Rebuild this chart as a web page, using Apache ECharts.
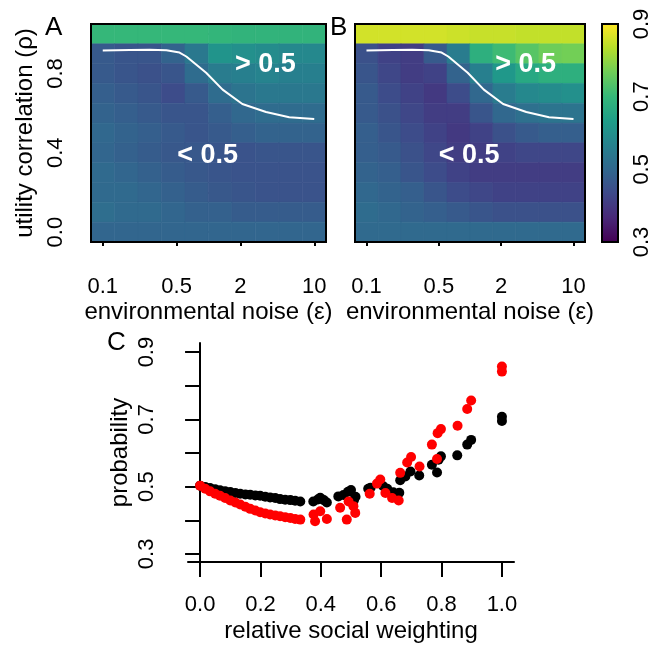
<!DOCTYPE html>
<html>
<head>
<meta charset="utf-8">
<script src="https://cdn.jsdelivr.net/npm/echarts@6/dist/echarts.min.js"></script>
<style>
html, body { margin: 0; padding: 0; background: #fff; }
#chart { width: 671px; height: 650px; }
</style>
</head>
<body>
<div id="chart"></div>
<script>
// ejes de los mapas de calor
var noiseLevels = [0.1, 0.167, 0.278, 0.464, 0.774, 1.29, 2.15, 3.59, 5.99, 10];
var noiseTicks = [0.1, 0.5, 2, 10];
var rhoLevels = [1.0, 0.9, 0.8, 0.7, 0.6, 0.5, 0.4, 0.3, 0.2, 0.1, 0.0];
var rhoTicks = [0, 0.2, 0.4, 0.6, 0.8, 1.0];
var rhoLabels = [0, 0.4, 0.8];

// panel A, filas de rho = 1.0 hasta 0.0
var probA = [
    [0.70, 0.70, 0.70, 0.70, 0.70, 0.695, 0.69, 0.69, 0.69, 0.69],
    [0.47, 0.46, 0.46, 0.49, 0.54, 0.61, 0.60, 0.59, 0.58, 0.58],
    [0.47, 0.46, 0.45, 0.46, 0.51, 0.55, 0.56, 0.57, 0.56, 0.56],
    [0.48, 0.47, 0.46, 0.44, 0.47, 0.51, 0.53, 0.54, 0.54, 0.54],
    [0.49, 0.48, 0.47, 0.46, 0.46, 0.48, 0.50, 0.51, 0.51, 0.51],
    [0.50, 0.49, 0.48, 0.47, 0.46, 0.47, 0.48, 0.49, 0.49, 0.49],
    [0.495, 0.485, 0.475, 0.465, 0.465, 0.46, 0.455, 0.46, 0.46, 0.46],
    [0.505, 0.495, 0.485, 0.475, 0.465, 0.46, 0.455, 0.455, 0.455, 0.455],
    [0.505, 0.505, 0.495, 0.485, 0.475, 0.465, 0.46, 0.455, 0.455, 0.455],
    [0.515, 0.505, 0.505, 0.495, 0.485, 0.485, 0.475, 0.475, 0.475, 0.475],
    [0.495, 0.495, 0.495, 0.495, 0.495, 0.495, 0.495, 0.495, 0.495, 0.495]
];

// panel B
var probB = [
    [0.86, 0.86, 0.86, 0.86, 0.855, 0.85, 0.85, 0.845, 0.845, 0.845],
    [0.45, 0.42, 0.41, 0.47, 0.55, 0.68, 0.71, 0.74, 0.765, 0.77],
    [0.46, 0.43, 0.41, 0.42, 0.49, 0.56, 0.62, 0.66, 0.68, 0.68],
    [0.47, 0.44, 0.42, 0.40, 0.44, 0.50, 0.55, 0.58, 0.59, 0.60],
    [0.47, 0.45, 0.43, 0.41, 0.41, 0.46, 0.50, 0.52, 0.53, 0.53],
    [0.48, 0.46, 0.44, 0.42, 0.40, 0.42, 0.45, 0.47, 0.48, 0.48],
    [0.48, 0.47, 0.45, 0.43, 0.41, 0.41, 0.42, 0.43, 0.43, 0.43],
    [0.49, 0.48, 0.46, 0.44, 0.42, 0.41, 0.41, 0.41, 0.41, 0.41],
    [0.50, 0.49, 0.48, 0.46, 0.44, 0.43, 0.42, 0.42, 0.42, 0.42],
    [0.51, 0.50, 0.49, 0.48, 0.47, 0.46, 0.45, 0.45, 0.45, 0.45],
    [0.505, 0.505, 0.505, 0.505, 0.505, 0.505, 0.505, 0.505, 0.505, 0.505]
];

// contorno de 0.5
var contourNoise = [0.1, 0.18, 0.277, 0.4, 0.532, 0.617, 0.95, 1.36, 2.09, 3.5, 5.8, 10];
var contourRho = [0.916, 0.919, 0.92, 0.917, 0.906, 0.886, 0.804, 0.719, 0.646, 0.606, 0.579, 0.571];

var regionText = ['> 0.5', '< 0.5'];
var regionNoise = [3.45, 0.98];
var regionRho = [0.844, 0.387];

var colorTicks = [0.3, 0.5, 0.7, 0.9];
var colorRange = [0.3, 0.9];
var viridis = ['#440154', '#482878', '#3e4989', '#31688e', '#26828e',
               '#1f9e89', '#35b779', '#6ece58', '#b5de2b', '#fde725'];

// panel C
var weightTicks = [0, 0.2, 0.4, 0.6, 0.8, 1.0];
var probTicks = [0.3, 0.4, 0.5, 0.6, 0.7, 0.8, 0.9];
var probLabels = [0.3, 0.5, 0.7, 0.9];

var blackWeight = [0.000, 0.017, 0.033, 0.050, 0.066, 0.083, 0.100, 0.117, 0.133, 0.150,
    0.166, 0.183, 0.199, 0.216, 0.232, 0.249, 0.265, 0.282, 0.299, 0.315, 0.332,
    0.375, 0.390, 0.398, 0.410, 0.420, 0.458, 0.475, 0.490, 0.500, 0.510, 0.515,
    0.557, 0.565, 0.607, 0.620, 0.640, 0.660, 0.663, 0.680, 0.697, 0.726, 0.768,
    0.785, 0.790, 0.798, 0.852, 0.885, 0.898, 1.000, 1.000];
var blackProb = [0.503, 0.499, 0.496, 0.492, 0.489, 0.486, 0.484, 0.481, 0.479, 0.477,
    0.476, 0.474, 0.473, 0.470, 0.468, 0.466, 0.463, 0.461, 0.460, 0.458, 0.456,
    0.456, 0.462, 0.467, 0.460, 0.453, 0.471, 0.475, 0.485, 0.490, 0.460, 0.470,
    0.494, 0.497, 0.501, 0.494, 0.483, 0.482, 0.519, 0.530, 0.545, 0.533, 0.565,
    0.542, 0.580, 0.590, 0.593, 0.625, 0.639, 0.708, 0.695];

var redWeight = [0.000, 0.017, 0.033, 0.050, 0.066, 0.083, 0.100, 0.117, 0.133, 0.150,
    0.166, 0.183, 0.199, 0.216, 0.232, 0.249, 0.265, 0.282, 0.299, 0.315, 0.332,
    0.376, 0.381, 0.398, 0.420, 0.464, 0.486, 0.492, 0.508, 0.514, 0.562, 0.586,
    0.597, 0.614, 0.636, 0.658, 0.663, 0.686, 0.699, 0.727, 0.768, 0.785, 0.787,
    0.798, 0.853, 0.885, 0.898, 1.000, 1.000];
var redProb = [0.503, 0.494, 0.486, 0.479, 0.473, 0.466, 0.459, 0.453, 0.447, 0.440,
    0.434, 0.429, 0.424, 0.420, 0.417, 0.414, 0.412, 0.409, 0.407, 0.404, 0.402,
    0.417, 0.397, 0.427, 0.404, 0.437, 0.402, 0.456, 0.442, 0.422, 0.479, 0.509,
    0.521, 0.481, 0.466, 0.459, 0.541, 0.572, 0.588, 0.560, 0.625, 0.582, 0.659,
    0.671, 0.681, 0.731, 0.756, 0.857, 0.842];

var FONT = 'Liberation Sans';
var log10 = function (v) { return Math.log10(v); };
var halfW = (log10(noiseLevels[noiseLevels.length - 1]) - log10(noiseLevels[0])) / (noiseLevels.length - 1) / 2;
var halfH = (rhoLevels[0] - rhoLevels[1]) / 2;

function heatData(grid) {
    var out = [];
    for (var r = 0; r < rhoLevels.length; r++) {
        for (var c = 0; c < noiseLevels.length; c++) {
            out.push([log10(noiseLevels[c]), rhoLevels[r], grid[r][c]]);
        }
    }
    return out;
}

function renderCell(params, api) {
    var x = api.value(0), y = api.value(1);
    var p0 = api.coord([x - halfW, y + halfH]);
    var p1 = api.coord([x + halfW, y - halfH]);
    var col = api.visual('color');
    return {
        type: 'rect',
        shape: { x: p0[0], y: p0[1], width: p1[0] - p0[0], height: p1[1] - p0[1] },
        style: { fill: col, stroke: col, lineWidth: 0.6 }
    };
}

var contourData = contourNoise.map(function (e, i) { return [log10(e), contourRho[i]]; });
var regionData = regionText.map(function (t, i) {
    return { name: t, value: [log10(regionNoise[i]), regionRho[i]] };
});

function noiseLabel(v) {
    return String(+Math.pow(10, v).toPrecision(2));
}

function heatXAxis(gridIndex) {
    return {
        type: 'value', gridIndex: gridIndex,
        min: log10(noiseLevels[0]) - halfW,
        max: log10(noiseLevels[noiseLevels.length - 1]) + halfW,
        name: 'environmental noise (ε)', nameLocation: 'middle', nameGap: 58,
        nameTextStyle: { fontSize: 24, fontFamily: FONT, color: '#000' },
        axisLine: { show: false },
        axisTick: { show: true, length: 14, customValues: noiseTicks.map(log10), lineStyle: { color: '#000', width: 2 } },
        axisLabel: { show: true, margin: 34, fontSize: 22, fontFamily: FONT, color: '#000',
            customValues: noiseTicks.map(log10), formatter: noiseLabel },
        splitLine: { show: false }
    };
}

var axisText = { fontSize: 22, fontFamily: FONT, color: '#000' };
var regionLabel = { show: true, position: 'inside', formatter: '{b}', color: '#fff',
    fontSize: 27, fontWeight: 'bold', fontFamily: FONT };

var option = {
    animation: false,
    backgroundColor: '#fff',
    title: [
        { text: 'A', left: 45, top: 15, padding: 0, textStyle: { fontSize: 26, fontWeight: 'normal', fontFamily: FONT, color: '#000' } },
        { text: 'B', left: 330, top: 15, padding: 0, textStyle: { fontSize: 26, fontWeight: 'normal', fontFamily: FONT, color: '#000' } },
        { text: 'C', left: 107, top: 330, padding: 0, textStyle: { fontSize: 26, fontWeight: 'normal', fontFamily: FONT, color: '#000' } }
    ],
    visualMap: {
        type: 'continuous', show: false,
        min: colorRange[0], max: colorRange[1],
        dimension: 2, seriesIndex: [0, 2],
        inRange: { color: viridis }
    },
    grid: [
        { left: 91, top: 24, width: 235, height: 218, show: true, z: 10, borderColor: '#000', borderWidth: 2, backgroundColor: 'transparent' },
        { left: 355, top: 24, width: 230, height: 218, show: true, z: 10, borderColor: '#000', borderWidth: 2, backgroundColor: 'transparent' },
        { left: 602, top: 24, width: 16, height: 218, show: true, z: 10, borderColor: '#000', borderWidth: 2, backgroundColor: 'transparent' },
        { left: 188, top: 343, width: 326, height: 219 }
    ],
    xAxis: [
        heatXAxis(0),
        heatXAxis(1),
        { type: 'value', gridIndex: 2, min: 0, max: 1, show: false },
        {
            type: 'value', gridIndex: 3, min: -0.04, max: 1.04,
            name: 'relative social weighting', nameLocation: 'middle', nameGap: 57,
            nameTextStyle: { fontSize: 24, fontFamily: FONT, color: '#000' },
            axisLine: { show: true, lineStyle: { color: '#000', width: 2 } },
            axisTick: { show: true, length: 15, customValues: weightTicks, lineStyle: { color: '#000', width: 2 } },
            axisLabel: Object.assign({ margin: 32, customValues: weightTicks, formatter: function (v) { return v.toFixed(1); } }, axisText),
            splitLine: { show: false }
        }
    ],
    yAxis: [
        {
            type: 'value', gridIndex: 0, min: -halfH, max: 1 + halfH,
            name: 'utility correlation (ρ)', nameLocation: 'middle', nameGap: 54,
            nameTextStyle: { fontSize: 24, fontFamily: FONT, color: '#000' },
            axisLine: { show: false },
            axisTick: { show: true, length: 14, customValues: rhoTicks, lineStyle: { color: '#000', width: 2 } },
            axisLabel: Object.assign({ margin: 24, rotate: 90, customValues: rhoLabels, formatter: function (v) { return v.toFixed(1); } }, axisText),
            splitLine: { show: false }
        },
        {
            type: 'value', gridIndex: 1, min: -halfH, max: 1 + halfH,
            axisLine: { show: false }, axisTick: { show: false }, axisLabel: { show: false }, splitLine: { show: false }
        },
        {
            type: 'value', gridIndex: 2, position: 'right', min: colorRange[0], max: colorRange[1],
            axisLine: { show: false },
            axisTick: { show: true, length: 14, customValues: colorTicks, lineStyle: { color: '#000', width: 2 } },
            axisLabel: Object.assign({ margin: 13, rotate: 90, customValues: colorTicks, formatter: function (v) { return v.toFixed(1); } }, axisText),
            splitLine: { show: false }
        },
        {
            type: 'value', gridIndex: 3, min: 0.276, max: 0.927,
            name: 'probability', nameLocation: 'middle', nameGap: 56,
            nameTextStyle: { fontSize: 24, fontFamily: FONT, color: '#000' },
            axisLine: { show: true, lineStyle: { color: '#000', width: 2 } },
            axisTick: { show: true, length: 15, customValues: probTicks, lineStyle: { color: '#000', width: 2 } },
            axisLabel: Object.assign({ margin: 30, rotate: 90, customValues: probLabels, formatter: function (v) { return v.toFixed(1); } }, axisText),
            splitLine: { show: false }
        }
    ],
    series: [
        { type: 'custom', xAxisIndex: 0, yAxisIndex: 0, renderItem: renderCell, data: heatData(probA) },
        { type: 'line', xAxisIndex: 0, yAxisIndex: 0, data: contourData, showSymbol: false, z: 3,
          lineStyle: { color: '#fff', width: 2 } },
        { type: 'custom', xAxisIndex: 1, yAxisIndex: 1, renderItem: renderCell, data: heatData(probB) },
        { type: 'line', xAxisIndex: 1, yAxisIndex: 1, data: contourData, showSymbol: false, z: 3,
          lineStyle: { color: '#fff', width: 2 } },
        { type: 'scatter', xAxisIndex: 0, yAxisIndex: 0, symbolSize: 0, data: regionData, z: 4,
          itemStyle: { opacity: 1 }, label: regionLabel },
        { type: 'scatter', xAxisIndex: 1, yAxisIndex: 1, symbolSize: 0, data: regionData, z: 4,
          itemStyle: { opacity: 1 }, label: regionLabel },
        {
            type: 'custom', xAxisIndex: 2, yAxisIndex: 2, data: [[0, colorRange[0], colorRange[1]]],
            renderItem: function (params, api) {
                var p0 = api.coord([0, api.value(2)]);
                var p1 = api.coord([1, api.value(1)]);
                var stops = viridis.map(function (c, i) {
                    return { offset: 1 - i / (viridis.length - 1), color: c };
                }).reverse();
                return {
                    type: 'rect',
                    shape: { x: p0[0], y: p0[1], width: p1[0] - p0[0], height: p1[1] - p0[1] },
                    style: { fill: new echarts.graphic.LinearGradient(0, 0, 0, 1, stops) }
                };
            }
        },
        { type: 'scatter', xAxisIndex: 3, yAxisIndex: 3, symbolSize: 10, itemStyle: { color: '#000', opacity: 1 },
          data: blackWeight.map(function (w, i) { return [w, blackProb[i]]; }) },
        { type: 'scatter', xAxisIndex: 3, yAxisIndex: 3, symbolSize: 10, itemStyle: { color: '#ff0000', opacity: 1 },
          data: redWeight.map(function (w, i) { return [w, redProb[i]]; }) }
    ]
};

var myChart = echarts.init(document.getElementById('chart'), null, { renderer: 'canvas' });
myChart.setOption(option);
window.addEventListener('resize', myChart.resize);
</script>
</body>
</html>
